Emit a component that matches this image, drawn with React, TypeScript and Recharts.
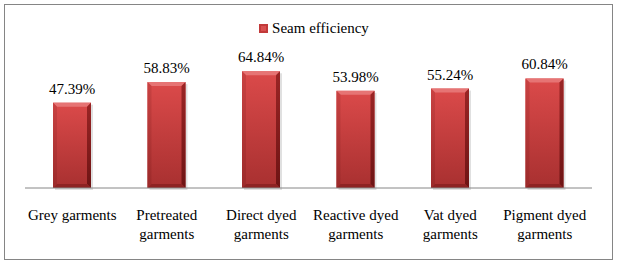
import { BarChart, Bar, XAxis, YAxis, LabelList } from 'recharts';

const categories = [
  'Grey garments',
  'Pretreated garments',
  'Direct dyed garments',
  'Reactive dyed garments',
  'Vat dyed garments',
  'Pigment dyed garments',
];
const tickLines = [
  ['Grey garments'],
  ['Pretreated', 'garments'],
  ['Direct dyed', 'garments'],
  ['Reactive dyed', 'garments'],
  ['Vat dyed', 'garments'],
  ['Pigment dyed', 'garments'],
];
const seamEfficiency = [47.39, 58.83, 64.84, 53.98, 55.24, 60.84];

const data = categories.map((name, i) => ({
  name,
  value: seamEfficiency[i],
}));

const FONT = '"Liberation Serif"';

function BevelBar(props: any) {
  const { x, y, width, height } = props;
  if (!height || height <= 0) return null;
  const b = 4;
  return (
    <g>
      <rect x={x + 2} y={y + 2} width={width} height={height} fill="#000" opacity={0.12} />
      <rect x={x} y={y} width={width} height={height} fill="url(#barFace)" />
      {/* bevelled edges */}
      <polygon
        points={`${x},${y} ${x + width},${y} ${x + width - b},${y + b} ${x + b},${y + b}`}
        fill="#e67474"
      />
      <polygon
        points={`${x},${y} ${x + b},${y + b} ${x + b},${y + height - b} ${x},${y + height}`}
        fill="url(#barLeft)"
      />
      <polygon
        points={`${x + width},${y} ${x + width},${y + height} ${x + width - b},${y + height - b} ${x + width - b},${y + b}`}
        fill="url(#barRight)"
      />
      <polygon
        points={`${x},${y + height} ${x + width},${y + height} ${x + width - b},${y + height - b} ${x + b},${y + height - b}`}
        fill="#8e2323"
      />
    </g>
  );
}

function TwoLineTick(props: any) {
  const { x, y, payload } = props;
  const lines = tickLines[payload.index] ?? [payload.value];
  return (
    <text x={x} y={y} textAnchor="middle" style={{ fontFamily: FONT, fontSize: 15 }} fill="#000">
      {lines.map((l: string, i: number) => (
        <tspan key={i} x={x} dy={i === 0 ? 30 : 18.5}>
          {l}
        </tspan>
      ))}
    </text>
  );
}

export default function App() {
  return (
    <div
      style={{
        position: 'absolute',
        left: 0,
        top: 0,
        width: 617,
        height: 264,
        background: '#fff',
        fontFamily: FONT,
      }}
    >
      <div
        style={{
          position: 'absolute',
          left: 4,
          top: 4,
          width: 607,
          height: 254,
          border: '1px solid #858585',
        }}
      />
      <div
        style={{
          position: 'absolute',
          left: 0,
          top: 18,
          width: 628,
          textAlign: 'center',
          fontFamily: FONT,
          fontSize: 15,
          color: '#000',
          lineHeight: '20px',
        }}
      >
        <svg width={9} height={9} style={{ marginRight: 4, verticalAlign: 'baseline' }}>
          <rect x={0} y={0} width={9} height={9} fill="#c23a3a" />
          <rect x={2} y={2} width={5} height={5} fill="#d85050" />
        </svg>
        Seam efficiency
      </div>
      <BarChart
        width={617}
        height={264}
        data={data}
        margin={{ top: 62, right: 25, left: 25, bottom: 46 }}
        style={{ position: 'absolute', left: 0, top: 0, fontFamily: FONT }}
      >
        <defs>
          <linearGradient id="barFace" x1="0" y1="0" x2="0" y2="1">
            <stop offset="0%" stopColor="#db4a4a" />
            <stop offset="100%" stopColor="#a83030" />
          </linearGradient>
          <linearGradient id="barLeft" x1="0" y1="0" x2="0" y2="1">
            <stop offset="0%" stopColor="#c94242" />
            <stop offset="100%" stopColor="#9c2a2a" />
          </linearGradient>
          <linearGradient id="barRight" x1="0" y1="0" x2="0" y2="1">
            <stop offset="0%" stopColor="#9a2525" />
            <stop offset="100%" stopColor="#6e1414" />
          </linearGradient>
        </defs>
        <XAxis
          dataKey="name"
          interval={0}
          height={30}
          tickLine={false}
          tickSize={0}
          axisLine={{ stroke: '#868686', strokeWidth: 1 }}
          tick={<TwoLineTick />}
        />
        <YAxis hide domain={[0, 70]} />
        <Bar dataKey="value" barSize={38} shape={<BevelBar />} isAnimationActive={false}>
          <LabelList
            dataKey="value"
            position="top"
            offset={9}
            formatter={(v: any) => `${Number(v).toFixed(2)}%`}
            style={{ fontFamily: FONT, fontSize: 15, fill: '#000' }}
          />
        </Bar>
      </BarChart>
    </div>
  );
}
